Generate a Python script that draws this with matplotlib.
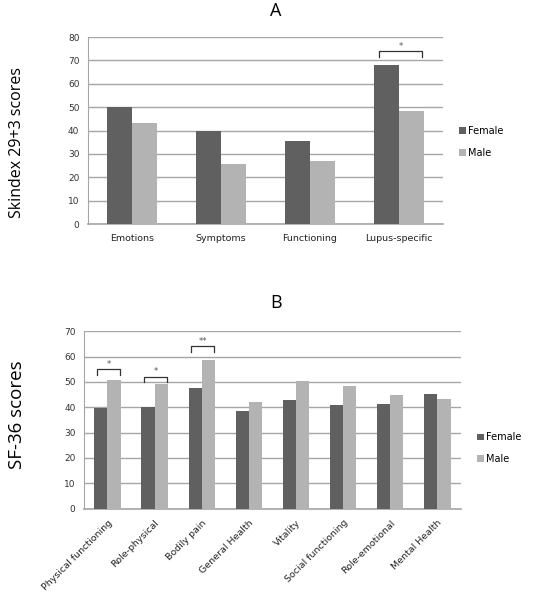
import numpy as np
import matplotlib
matplotlib.use("Agg")
import matplotlib.pyplot as plt

# Panel A: Skindex 29+3
skindex_cats = ["Emotions", "Symptoms", "Functioning", "Lupus-specific"]
skindex_female = [50.0, 40.0, 35.7, 67.9]
skindex_male = [43.4, 25.6, 26.8, 48.2]

# Panel B: SF-36
sf36_cats = ["Physical functioning", "Role-physical", "Bodily pain", "General Health",
             "Vitality", "Social functioning", "Role-emotional", "Mental Health"]
sf36_female = [39.8, 40.2, 47.7, 38.4, 42.8, 40.7, 41.4, 45.4]
sf36_male = [50.6, 49.1, 58.6, 42.0, 50.2, 48.3, 44.7, 43.2]

# significance brackets: (category index, bracket height, label)
skindex_sig = [(3, 73.9, "*")]
sf36_sig = [(0, 55.0, "*"), (1, 52.1, "*"), (2, 64.0, "**")]

DARK = "#606060"
LIGHT = "#b3b3b3"
GRID = "#a6a6a6"
TICK_FONT = "DejaVu Sans"
LABEL_FONT = "Open Sans"


def draw_panel(ax, cats, female, male, sig, ymax, step, rotate):
    x = np.arange(len(cats))
    w = 0.28
    ax.bar(x - w / 2, female, w, color=DARK, label="Female", zorder=3)
    ax.bar(x + w / 2, male, w, color=LIGHT, label="Male", zorder=3)
    ax.set_xlim(-0.5, len(cats) - 0.5)
    ax.set_ylim(0, ymax)
    ax.set_yticks(np.arange(0, ymax + 1, step))
    ax.yaxis.grid(True, color=GRID, linewidth=1.0, zorder=0)
    ax.set_axisbelow(True)
    for s in ["top", "right"]:
        ax.spines[s].set_visible(False)
    ax.spines["left"].set_color(GRID)
    ax.spines["bottom"].set_color(GRID)
    ax.spines["bottom"].set_linewidth(1.2)
    ax.tick_params(axis="y", length=0, labelsize=6.5, labelcolor="#333333", pad=6)
    ax.tick_params(axis="x", length=0, labelsize=6.8, labelcolor="#222222", pad=7)
    for lab in ax.get_yticklabels():
        lab.set_fontfamily(TICK_FONT)
    ax.set_xticks(x)
    if rotate:
        ax.set_xticklabels(cats, rotation=45, ha="right", rotation_mode="anchor",
                           fontfamily=TICK_FONT)
    else:
        ax.set_xticklabels(cats, fontfamily=TICK_FONT)
    # brackets
    for i, h, txt in sig:
        x0 = i - w * 0.8
        x1 = i + w * 0.95
        dh = ymax * 0.03
        ax.plot([x0, x0, x1, x1], [h - dh, h, h, h - dh], color="#333333",
                linewidth=0.9, zorder=4)
        ax.text((x0 + x1) / 2, h + ymax * 0.003, txt, ha="center", va="bottom",
                fontsize=6, color="#555555", fontfamily=TICK_FONT)


fig = plt.figure(figsize=(5.52, 5.99), dpi=100)

ax1 = fig.add_axes([0.159, 0.626, 0.644, 0.312])
draw_panel(ax1, skindex_cats, skindex_female, skindex_male, skindex_sig, 80, 10, False)
ax1.legend(loc="center left", bbox_to_anchor=(1.02, 0.44), frameon=False,
           handlelength=0.7, handleheight=0.7, handletextpad=0.2,
           labelspacing=1.2, prop={"family": TICK_FONT, "size": 7})
fig.text(0.5, 0.982, "A", ha="center", va="center", fontsize=13, fontfamily=LABEL_FONT)
fig.text(0.03, 0.762, "Skindex 29+3 scores", rotation=90, ha="center", va="center",
         fontsize=11.5, fontfamily=LABEL_FONT)

ax2 = fig.add_axes([0.152, 0.151, 0.683, 0.296])
draw_panel(ax2, sf36_cats, sf36_female, sf36_male, sf36_sig, 70, 10, True)
ax2.legend(loc="center left", bbox_to_anchor=(1.02, 0.34), frameon=False,
           handlelength=0.7, handleheight=0.7, handletextpad=0.2,
           labelspacing=1.2, prop={"family": TICK_FONT, "size": 7})
fig.text(0.5, 0.494, "B", ha="center", va="center", fontsize=13, fontfamily=LABEL_FONT)
fig.text(0.03, 0.308, "SF-36 scores", rotation=90, ha="center", va="center",
         fontsize=13.5, fontfamily=LABEL_FONT)

fig.savefig("out.png", dpi=100)
